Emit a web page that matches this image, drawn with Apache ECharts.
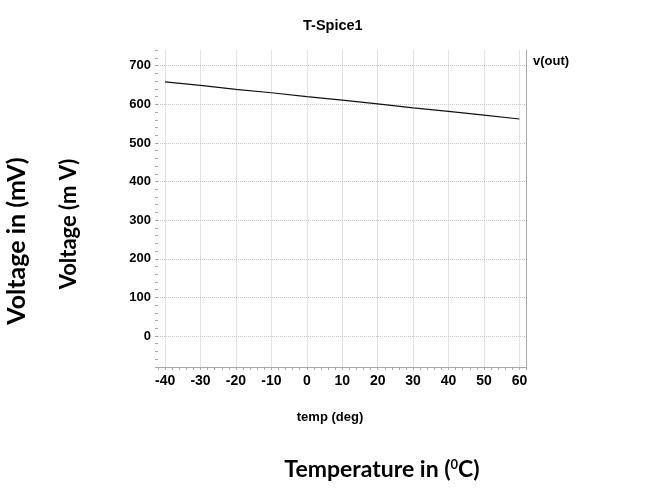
<!DOCTYPE html>
<html>
<head>
<meta charset="utf-8">
<script src="https://cdn.jsdelivr.net/npm/echarts@6/dist/echarts.min.js"></script>
<style>
html,body{margin:0;padding:0;background:#fff;}
#chart{width:668px;height:492px;}
</style>
</head>
<body>
<div id="chart"></div>
<script>
// ---- data ----
const temps = [-40, -30, -20, -10, 0, 10, 20, 30, 40, 50, 60];
const vout  = [658, 649, 639, 630, 620, 611, 601, 591, 582, 572, 562];
const seriesName = 'v(out)';
const chartTitle = 'T-Spice1';
const xAxisTitle = 'temp (deg)';
const yAxisTitle = 'Voltage (m V)';
const outerYTitle = 'Voltage in (mV)';
const outerXTitle = 'Temperature in (';
const xRange = [-42, 62];
const yRange = [-80, 740];
const xMajor = 10, xMinor = 2;
const yMajor = 100, yMinor = 20;

const sans = '"Liberation Sans", Arial, sans-serif';
const big = 'Lato, "Open Sans", sans-serif';
const gridC = '#c8c8c8';
const axisC = '#a8a8a8';

const chart = echarts.init(document.getElementById('chart'), null, {renderer: 'canvas'});
const pts = temps.map((t, i) => [t, vout[i]]);

const option = {
  backgroundColor: '#ffffff',
  animation: false,
  title: {
    text: chartTitle, left: 298, top: 13,
    textStyle: {fontFamily: sans, fontWeight: 'bold', fontSize: 14.5, color: '#000'}
  },
  legend: {
    data: [seriesName], left: 523, top: 50, icon: 'none', itemWidth: 0, itemHeight: 0, itemGap: 0,
    textStyle: {fontFamily: sans, fontWeight: 'bold', fontSize: 13, color: '#000'}
  },
  grid: {left: 158, top: 50.3, width: 368.5, height: 316.6, containLabel: false},
  xAxis: [
    { // minor ticks + labels
      type: 'value', min: xRange[0], max: xRange[1], interval: xMinor, position: 'bottom',
      axisLine: {show: false, onZero: false},
      axisTick: {show: true, length: 3, lineStyle: {color: axisC}},
      splitLine: {show: false},
      axisLabel: {
        show: true, margin: 7, fontFamily: sans, fontWeight: 'bold', fontSize: 14, color: '#000',
        formatter: v => (Math.round(v) % xMajor === 0 ? String(Math.round(v)) : '')
      }
    },
    { // major grid + axis line
      type: 'value', min: xRange[0], max: xRange[1], minInterval: xMajor, maxInterval: xMajor, position: 'bottom',
      axisLine: {show: true, onZero: false, lineStyle: {color: axisC, width: 1}},
      axisTick: {show: false},
      axisLabel: {show: false},
      splitLine: {show: true, showMinLine: false, showMaxLine: false, lineStyle: {color: gridC, type: 'dotted', width: 1}}
    }
  ],
  yAxis: [
    {
      type: 'value', min: yRange[0], max: yRange[1], interval: yMinor, position: 'left',
      axisLine: {show: false, onZero: false},
      axisTick: {show: true, length: 3, lineStyle: {color: axisC}},
      splitLine: {show: false},
      axisLabel: {
        show: true, margin: 7, fontFamily: sans, fontWeight: 'bold', fontSize: 13, color: '#000',
        formatter: v => (Math.round(v) % yMajor === 0 ? String(Math.round(v)) : '')
      }
    },
    {
      type: 'value', min: yRange[0], max: yRange[1], minInterval: yMajor, maxInterval: yMajor, position: 'left',
      axisLine: {show: false, onZero: false}, axisTick: {show: false}, axisLabel: {show: false},
      splitLine: {show: true, showMinLine: false, showMaxLine: false, lineStyle: {color: gridC, type: 'dotted', width: 1}}
    },
    {
      type: 'value', min: yRange[0], max: yRange[1], position: 'right',
      axisLine: {show: true, onZero: false, lineStyle: {color: axisC, width: 1}},
      axisTick: {show: false}, axisLabel: {show: false}, splitLine: {show: false}
    }
  ],
  series: [{
    name: seriesName, type: 'line', xAxisIndex: 0, yAxisIndex: 0,
    data: pts, showSymbol: false, symbol: 'none',
    lineStyle: {color: '#111', width: 1.2}, itemStyle: {color: '#111'}
  }],
  graphic: [
    {
      type: 'text', x: 330, y: 417,
      style: {text: xAxisTitle, fontFamily: sans, fontWeight: 'bold', fontSize: 13, fill: '#000', align: 'center', verticalAlign: 'middle'}
    },
    {
      type: 'text', x: 69, y: 224, rotation: Math.PI / 2,
      style: {text: yAxisTitle, fontFamily: big, fontWeight: 'bold', fontSize: 22, fill: '#000', align: 'center', verticalAlign: 'middle'}
    },
    {
      type: 'text', x: 17, y: 241, rotation: Math.PI / 2,
      style: {text: outerYTitle, fontFamily: big, fontWeight: 'bold', fontSize: 25, fill: '#000', align: 'center', verticalAlign: 'middle'}
    },
    {
      type: 'text', x: 382, y: 470,
      style: {
        text: '{a|' + outerXTitle + '}{s|0}{a|C)}',
        align: 'center', verticalAlign: 'middle',
        rich: {
          a: {fontFamily: big, fontWeight: 'bold', fontSize: 23, color: '#000'},
          s: {fontFamily: big, fontWeight: 'bold', fontSize: 13, color: '#000', verticalAlign: 'top', padding: [0, 0, 11, 0]}
        }
      }
    }
  ]
};
chart.setOption(option);
</script>
</body>
</html>
